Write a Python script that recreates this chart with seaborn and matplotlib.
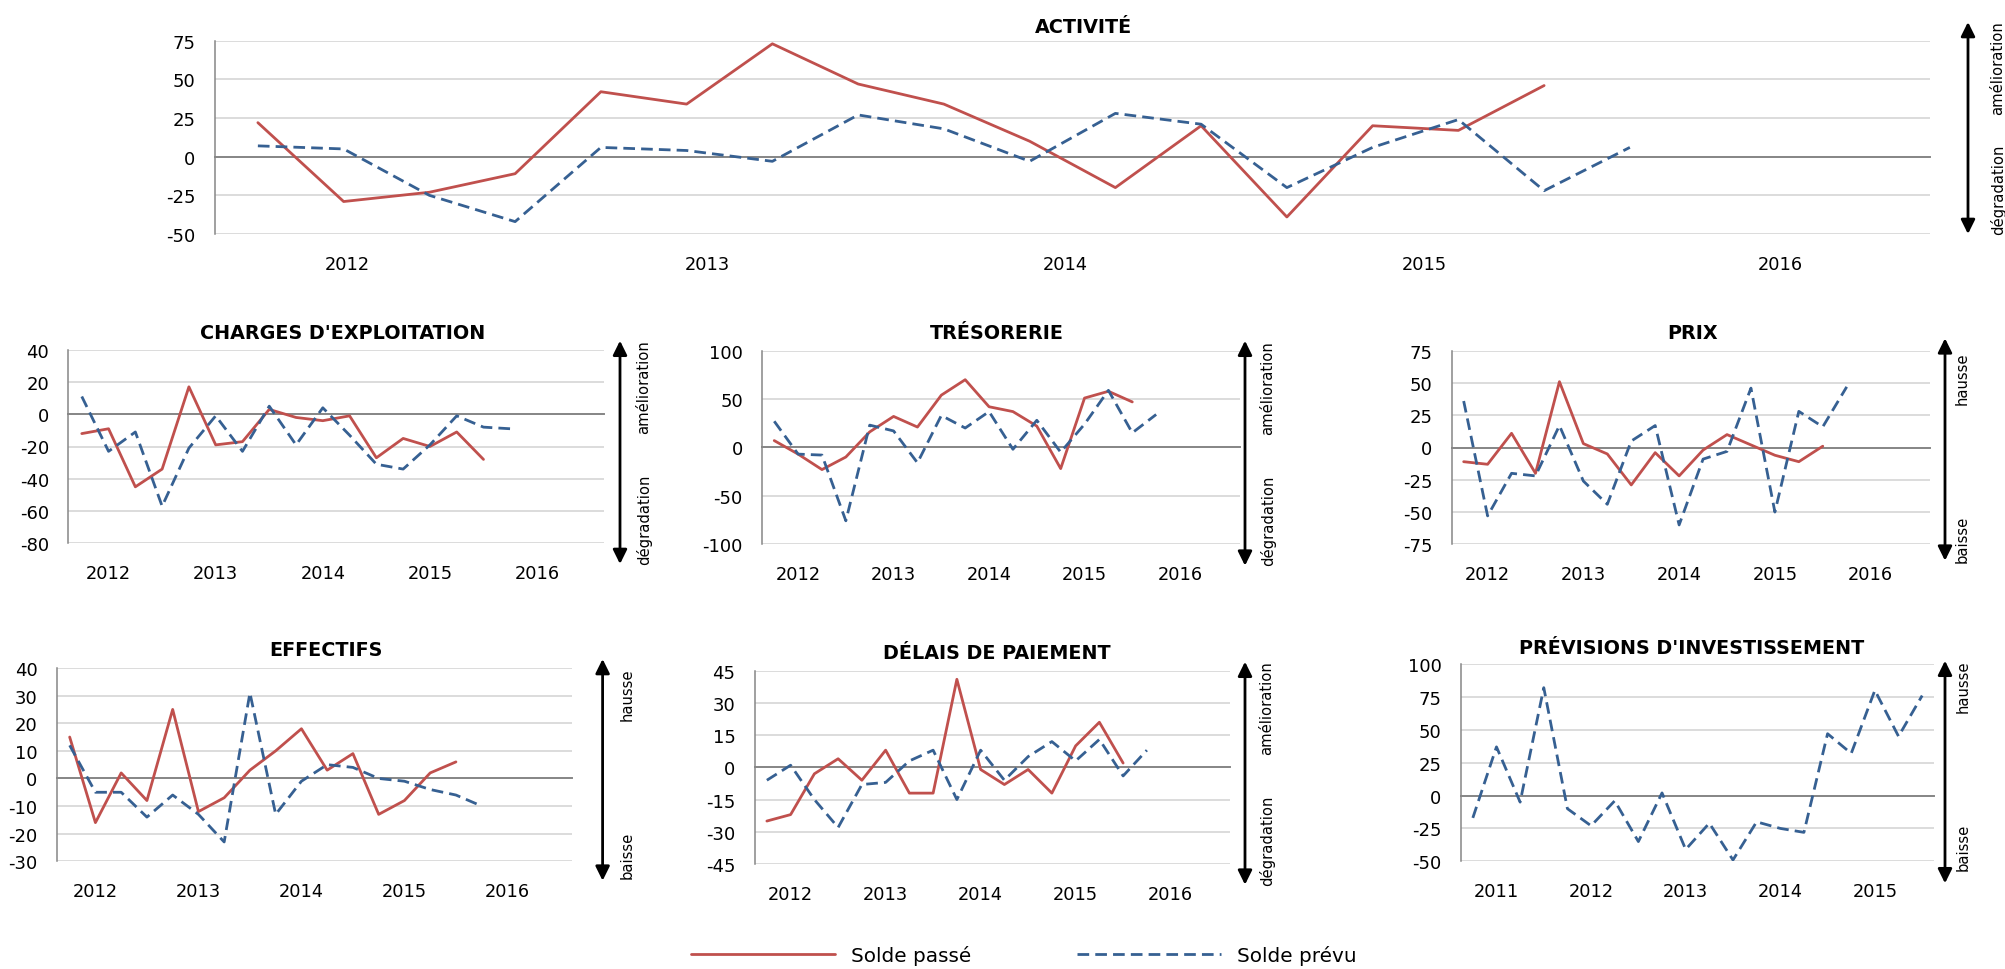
import numpy as np
import pandas as pd
import matplotlib
matplotlib.use("Agg")
import matplotlib.pyplot as plt
from matplotlib.lines import Line2D
from matplotlib.patches import FancyArrowPatch
import seaborn as sns

# ---------------------------------------------------------------- data
SERIES = ["Solde passé", "Solde prévu"]

activite_passe = [22, -29, -23, -11, 42, 34, 73, 47, 34, 10, -20, 20, -39, 20, 17, 46]
activite_prevu = [7, 5, -25, -42, 6, 4, -3, 27, 18, -3, 28, 21, -20, 6, 24, -22, 6]

charges_passe = [-12, -9, -45, -34, 17, -19, -17, 3, -2, -4, -1, -27, -15, -20, -11, -28]
charges_prevu = [11, -23, -11, -57, -21, -1, -23, 5, -19, 4, -13, -31, -34, -19, -1, -8, -9]

tresorerie_passe = [7, -7, -23, -10, 16, 32, 21, 54, 70, 42, 37, 22, -22, 51, 58, 47]
tresorerie_prevu = [27, -7, -8, -76, 23, 17, -16, 33, 20, 37, -2, 28, -5, 24, 59, 15, 34]

prix_passe = [-11, -13, 11, -20, 51, 3, -5, -29, -4, -22, -2, 10, 2, -6, -11, 1]
prix_prevu = [36, -53, -20, -22, 17, -26, -44, 5, 17, -60, -9, -3, 46, -50, 28, 16, 47]

effectifs_passe = [15, -16, 2, -8, 25, -12, -7, 3, 10, 18, 3, 9, -13, -8, 2, 6]
effectifs_prevu = [12, -5, -5, -14, -6, -13, -23, 31, -13, -1, 5, 4, 0, -1, -4, -6, -10]

delais_passe = [-25, -22, -3, 4, -6, 8, -12, -12, 41, -1, -8, -1, -12, 10, 21, 2]
delais_prevu = [-6, 1, -15, -28, -8, -7, 3, 8, -15, 8, -6, 5, 12, 3, 13, -4, 8]

investissement_prevu = [-17, 37, -5, 82, -10, -23, -4, -35, 2, -41, -21, -49, -20,
                        -25, -28, 47, 32, 80, 45, 76]

years_2012 = ["2012", "2013", "2014", "2015", "2016"]
years_2011 = ["2011", "2012", "2013", "2014", "2015"]

yticks_activite = [-50, -25, 0, 25, 50, 75]
yticks_charges = [-80, -60, -40, -20, 0, 20, 40]
yticks_tresorerie = [-100, -50, 0, 50, 100]
yticks_prix = [-75, -50, -25, 0, 25, 50, 75]
yticks_effectifs = [-30, -20, -10, 0, 10, 20, 30, 40]
yticks_delais = [-45, -30, -15, 0, 15, 30, 45]
yticks_invest = [-50, -25, 0, 25, 50, 75, 100]

N_QUARTERS = 20  # five years of quarterly observations on every axis

# ---------------------------------------------------------------- style
sns.set_style("white")
plt.rcParams["font.family"] = ["DejaVu Sans"]
plt.rcParams["axes.unicode_minus"] = False
for key in ("text.color", "axes.labelcolor", "xtick.color", "ytick.color"):
    plt.rcParams[key] = "black"

RED = "#C0504D"
BLUE = "#366092"
GRID = "#D9D9D9"
AXIS = "#868686"
LW = 2.0
DASH = (4.2, 2.2)
PALETTE = {SERIES[0]: RED, SERIES[1]: BLUE}
DASHES = {SERIES[0]: "", SERIES[1]: DASH}

W, H = 2006, 970
fig = plt.figure(figsize=(W / 100, H / 100), dpi=100)


def rect(x0, y0, x1, y1):
    return [x0 / W, 1 - y1 / H, (x1 - x0) / W, (y1 - y0) / H]


def long_form(passe, prevu):
    frames = []
    for name, vals in zip(SERIES, (passe, prevu)):
        if vals is None:
            continue
        frames.append(pd.DataFrame({"trimestre": np.arange(len(vals)),
                                    "solde": vals, "série": name}))
    return pd.concat(frames, ignore_index=True)


def panel(box, title, title_xy, passe, prevu, yticks, years, year_pos,
          arrow, labels):
    ax = fig.add_axes(rect(*box))
    df = long_form(passe, prevu)
    sns.lineplot(data=df, x="trimestre", y="solde", hue="série", style="série",
                 palette=PALETTE, dashes=DASHES, linewidth=LW, legend=False,
                 ax=ax, zorder=3)
    ax.set_xlabel("")
    ax.set_ylabel("")
    ax.set_xlim(-0.5, N_QUARTERS - 0.5)
    ax.set_ylim(yticks[0], yticks[-1])
    ax.set_yticks(yticks)
    ax.set_axisbelow(True)
    ax.grid(axis="y", color=GRID, lw=1.3)
    ax.grid(axis="x", visible=False)
    for s in ("top", "right"):
        ax.spines[s].set_visible(False)
    ax.spines["left"].set_color(AXIS)
    ax.spines["left"].set_linewidth(1.1)
    ax.spines["bottom"].set_position(("data", 0))
    ax.spines["bottom"].set_color(AXIS)
    ax.spines["bottom"].set_linewidth(1.4)
    ax.set_xticks(np.arange(-0.5, N_QUARTERS, 4))
    ax.tick_params(axis="x", direction="out", length=4.5, width=1.1,
                   color=AXIS, labelbottom=False)
    ax.tick_params(axis="y", direction="out", length=5, width=1.1,
                   color=AXIS, pad=9, labelsize=13, labelcolor="black")

    sec = ax.secondary_xaxis("bottom")
    sec.set_xticks(year_pos, labels=years)
    sec.tick_params(length=0, pad=15, labelsize=12.8, labelcolor="black")
    sec.spines["bottom"].set_visible(False)

    cx, cy = title_xy
    fig.text(cx / W, 1 - (cy + 7) / H, title, ha="center", va="baseline",
             fontsize=13.8, fontweight="bold", color="black")

    ax_x, ay0, ay1 = arrow
    fig.add_artist(FancyArrowPatch(
        (ax_x / W, 1 - ay1 / H), (ax_x / W, 1 - ay0 / H),
        transform=fig.transFigure,
        arrowstyle="<|-|>,head_length=8.5,head_width=4.2",
        mutation_scale=1, lw=2.0, color="black", shrinkA=0, shrinkB=0))
    for txt, tx, ty in labels:
        fig.text(tx / W, 1 - ty / H, txt, rotation=90, ha="center",
                 va="center", fontsize=10.6, color="black")
    return ax


lower_years = [1, 5, 9, 13, 17]

# ACTIVITÉ (wide top panel)
panel((215, 41.7, 1930, 235), "ACTIVITÉ", (1084, 26),
      activite_passe, activite_prevu, yticks_activite, years_2012,
      [1.04, 5.24, 9.42, 13.6, 17.76],
      (1968, 23, 235),
      [("amélioration", 1998, 68), ("dégradation", 1998, 190)])

# second row
panel((68.4, 350.7, 604, 544.3), "CHARGES D'EXPLOITATION", (343, 332),
      charges_passe, charges_prevu, yticks_charges, years_2012, lower_years,
      (620, 341.7, 565),
      [("amélioration", 644, 387), ("dégradation", 644, 520)])

panel((762.3, 351.7, 1239.7, 545), "TRÉSORERIE", (997, 332),
      tresorerie_passe, tresorerie_prevu, yticks_tresorerie, years_2012,
      lower_years,
      (1245, 341.7, 566.7),
      [("amélioration", 1268, 388), ("dégradation", 1268, 521)])

panel((1451.7, 351.7, 1930.5, 545.3), "PRIX", (1692.6, 332),
      prix_passe, prix_prevu, yticks_prix, years_2012, lower_years,
      (1945, 339.3, 561.7),
      [("hausse", 1962, 379), ("baisse", 1962, 539)])

# third row
panel((56.8, 669, 571.8, 862.3), "EFFECTIFS", (326, 649.5),
      effectifs_passe, effectifs_prevu, yticks_effectifs, years_2012,
      lower_years,
      (602.6, 660, 881.7),
      [("hausse", 627, 695), ("baisse", 627, 855.5)])

panel((755, 671.7, 1230, 865), "DÉLAIS DE PAIEMENT", (997, 652.3),
      delais_passe, delais_prevu, yticks_delais, years_2012, lower_years,
      (1245, 662.7, 885.7),
      [("amélioration", 1267, 708), ("dégradation", 1267, 841)])

panel((1461, 665, 1934, 862.3), "PRÉVISIONS D'INVESTISSEMENT", (1691.7, 647.3),
      None, investissement_prevu, yticks_invest, years_2011, lower_years,
      (1945, 661.7, 884.3),
      [("hausse", 1963.6, 687), ("baisse", 1963.6, 847.5)])

# shared legend
handles = [Line2D([], [], color=RED, lw=LW),
           Line2D([], [], color=BLUE, lw=LW, dashes=DASH)]
fig.legend(handles, SERIES, loc="center", bbox_to_anchor=(1023.5 / W, 1 - 956 / H),
           ncol=2, frameon=False, fontsize=14.4, handlelength=7.2,
           handletextpad=0.8, columnspacing=5.3, borderpad=0.2,
           labelcolor="black")

fig.savefig("out.png", dpi=100)
